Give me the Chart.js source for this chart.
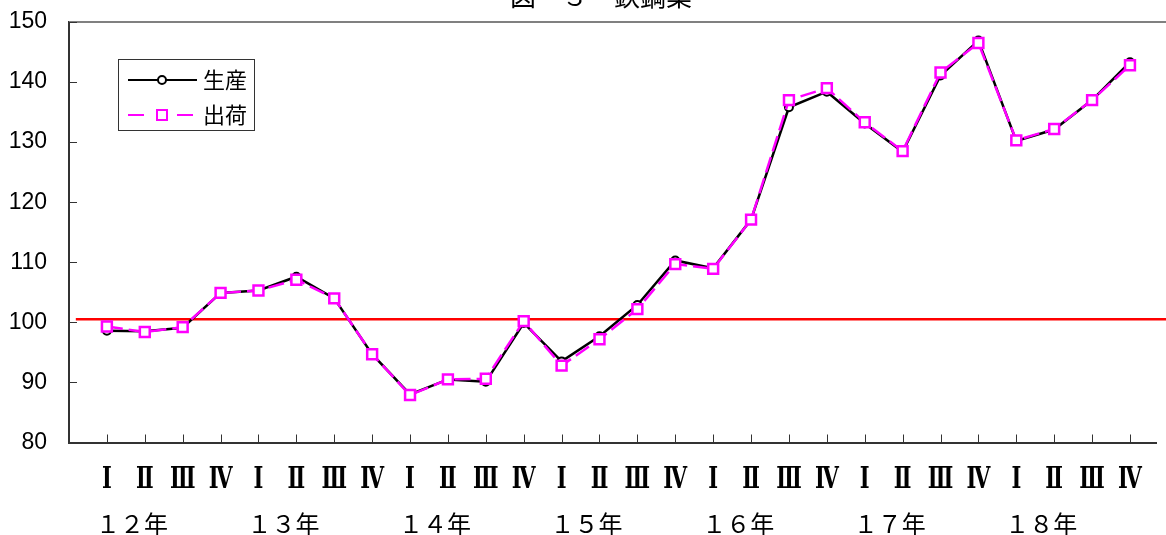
<!DOCTYPE html>
<html><head><meta charset="utf-8">
<script src="https://cdn.jsdelivr.net/npm/chart.js@4"></script>
<style>html,body{margin:0;padding:0;background:#fff;overflow:hidden}</style>
</head><body>
<canvas id="c" width="1166" height="535"></canvas>
<script>
const title = '図　３　鉄鋼業';
const quarters = ['Ⅰ','Ⅱ','Ⅲ','Ⅳ','Ⅰ','Ⅱ','Ⅲ','Ⅳ','Ⅰ','Ⅱ','Ⅲ','Ⅳ','Ⅰ','Ⅱ','Ⅲ','Ⅳ','Ⅰ','Ⅱ','Ⅲ','Ⅳ','Ⅰ','Ⅱ','Ⅲ','Ⅳ','Ⅰ','Ⅱ','Ⅲ','Ⅳ'];
const years = ['１２年','１３年','１４年','１５年','１６年','１７年','１８年'];
const yTicks = [80,90,100,110,120,130,140,150];
const production = [98.6,98.5,99.1,104.9,105.3,107.6,104.0,94.7,88.0,90.5,90.1,99.9,93.5,97.7,102.9,110.3,109.0,117.1,135.8,138.4,133.1,128.4,141.1,146.9,130.2,132.1,137.0,143.3];
const shipments  = [99.3,98.4,99.2,104.9,105.3,107.1,104.0,94.7,87.9,90.5,90.6,100.2,92.8,97.2,102.2,109.7,108.9,117.1,137.0,139.0,133.3,128.5,141.6,146.5,130.3,132.2,137.0,142.8];
const baseline = [100.5];
const seriesNames = ['生産','出荷'];

const JP = "'Noto Sans CJK JP'";

const deco = {
  id:'deco',
  beforeDatasetsDraw(chart){
    const ctx = chart.ctx, xs = chart.scales.x, ys = chart.scales.y, a = chart.chartArea;
    ctx.save();
    ctx.strokeStyle = '#808080'; ctx.lineWidth = 2;
    ctx.beginPath(); ctx.moveTo(a.left, a.top); ctx.lineTo(chart.width, a.top); ctx.stroke();
    ctx.strokeStyle = '#333'; ctx.lineWidth = 1;
    yTicks.forEach(v=>{ const y = Math.round(ys.getPixelForValue(v))+0.5; ctx.beginPath(); ctx.moveTo(a.left, y); ctx.lineTo(a.left+8, y); ctx.stroke(); });
    quarters.forEach((q,i)=>{ const x = Math.round(xs.getPixelForValue(i+1))+0.5; ctx.beginPath(); ctx.moveTo(x, a.bottom); ctx.lineTo(x, a.bottom-8); ctx.stroke(); });
    ctx.strokeStyle = '#ff0000'; ctx.lineWidth = 2.5;
    const by = ys.getPixelForValue(baseline[0]);
    ctx.beginPath(); ctx.moveTo(xs.getPixelForValue(0.18), by); ctx.lineTo(chart.width, by); ctx.stroke();
    ctx.restore();
  },
  afterDraw(chart){
    const ctx = chart.ctx, xs = chart.scales.x, ys = chart.scales.y;
    ctx.save();
    ctx.fillStyle = '#000';
    ctx.font = "26px " + JP; ctx.textAlign = 'center'; ctx.textBaseline = 'alphabetic';
    ctx.fillText(title, 601, 6);
    ctx.font = "23px 'Liberation Sans'"; ctx.textAlign = 'right'; ctx.textBaseline = 'middle';
    yTicks.forEach(v=>{ ctx.fillText(String(v), 47, ys.getPixelForValue(v)); });
    ctx.textAlign = 'center'; ctx.textBaseline = 'alphabetic';
    ctx.font = "bold 30px 'DejaVu Serif'";
    quarters.forEach((q,i)=>{
      const x = xs.getPixelForValue(i+1);
      ctx.save(); ctx.translate(x, 488); ctx.scale(0.7, 1);
      ctx.fillText(q, 0, 0); ctx.restore();
    });
    ctx.font = "24px " + JP; ctx.textBaseline = 'middle';
    years.forEach((y,k)=>{ ctx.fillText(y, xs.getPixelForValue(4*k+1.66), 524); });
    ctx.strokeStyle = '#333'; ctx.lineWidth = 1;
    ctx.strokeRect(118.5, 59.5, 136, 71);
    ctx.strokeStyle = '#000'; ctx.lineWidth = 2;
    ctx.beginPath(); ctx.moveTo(128, 80); ctx.lineTo(197, 80); ctx.stroke();
    ctx.fillStyle = '#fff'; ctx.lineWidth = 2;
    ctx.beginPath(); ctx.arc(162, 80, 4, 0, Math.PI*2); ctx.fill(); ctx.stroke();
    ctx.strokeStyle = '#ff00ff'; ctx.lineWidth = 2;
    ctx.beginPath(); ctx.moveTo(128, 115); ctx.lineTo(144, 115); ctx.moveTo(177, 115); ctx.lineTo(193, 115); ctx.stroke();
    ctx.fillStyle = '#fff';
    ctx.fillRect(157, 110, 10, 10); ctx.strokeRect(157, 110, 10, 10);
    ctx.fillStyle = '#000'; ctx.font = "22px " + JP; ctx.textAlign = 'left'; ctx.textBaseline = 'middle';
    ctx.fillText(seriesNames[0], 203, 80);
    ctx.fillText(seriesNames[1], 203, 115);
    ctx.restore();
  }
};

new Chart(document.getElementById('c'), {
  type: 'line',
  data: {
    datasets: [
      { label: seriesNames[0], data: production.map((v,i)=>({x:i+1, y:v})),
        borderColor:'#000', borderWidth:2.5, tension:0,
        pointStyle:'circle', pointRadius:4, pointBorderWidth:2,
        pointBackgroundColor:'#fff', pointBorderColor:'#000', order:2 },
      { label: seriesNames[1], data: shipments.map((v,i)=>({x:i+1, y:v})),
        borderColor:'#ff00ff', borderWidth:2.5, borderDash:[16,6], tension:0,
        pointStyle:'rect', pointRadius:7, pointBorderWidth:2.5,
        pointBackgroundColor:'#fff', pointBorderColor:'#ff00ff', order:1 }
    ]
  },
  options: {
    responsive:false, animation:false, clip:false,
    layout:{ padding:{ top:22, right:0, left:0, bottom:0 } },
    plugins:{ legend:{display:false}, tooltip:{enabled:false} },
    scales:{
      x:{ type:'linear', min:0, max:28.7,
          afterFit(s){ s.height = 92.5; },
          afterBuildTicks(s){ s.ticks = Array.from({length:29},(_,i)=>({value:i})); },
          grid:{ display:false, drawTicks:false },
          border:{ display:true, color:'#333', width:2 },
          ticks:{ display:false } },
      y:{ min:80, max:150,
          afterFit(s){ s.width = 69; },
          afterBuildTicks(s){ s.ticks = yTicks.map(v=>({value:v})); },
          grid:{ display:false, drawTicks:false },
          border:{ display:true, color:'#333', width:2 },
          ticks:{ display:false } }
    }
  },
  plugins:[deco]
});
</script>
</body></html>
